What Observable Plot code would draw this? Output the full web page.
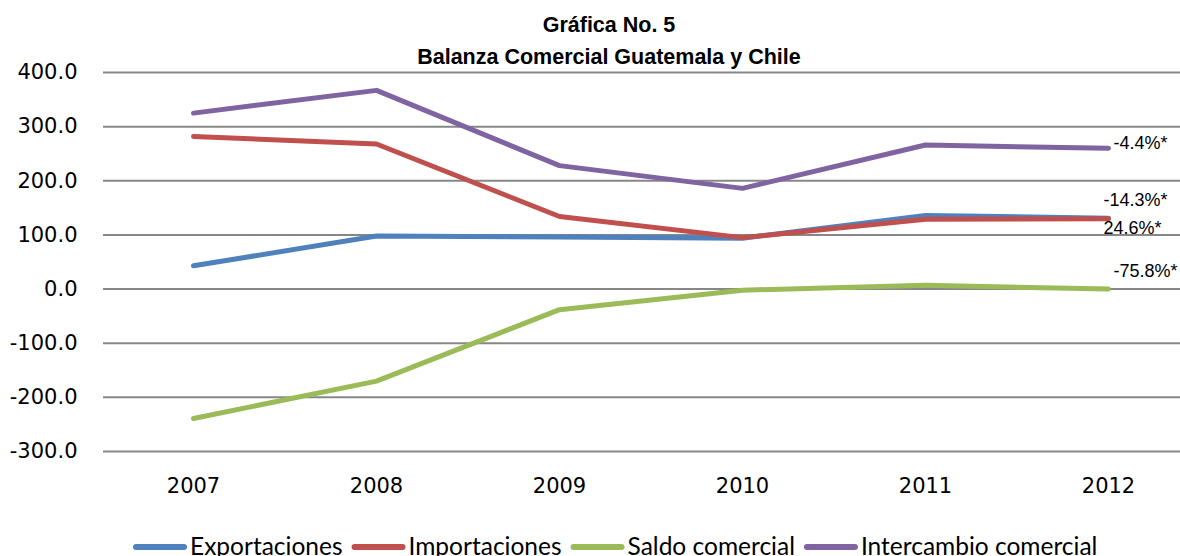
<!DOCTYPE html>
<html>
<head>
<meta charset="utf-8">
<script src="https://cdn.jsdelivr.net/npm/d3@7"></script>
<script src="https://cdn.jsdelivr.net/npm/@observablehq/plot@0.6"></script>
<style>
  html, body { margin: 0; padding: 0; background: #fff; }
  #wrap { position: relative; width: 1180px; height: 556px; overflow: hidden; }
  #wrap > svg { position: absolute; left: 0; top: 0; }
</style>
</head>
<body>
<div id="wrap"></div>
<script>
// ---- data ----
const years = [2007, 2008, 2009, 2010, 2011, 2012];
const seriesNames = ["Exportaciones", "Importaciones", "Saldo comercial", "Intercambio comercial"];
const seriesColors = ["#4F81BD", "#C0504D", "#9BBB59", "#8064A2"];
const exportaciones = [43, 98, 96, 94, 136, 131];
const importaciones = [282, 268, 134, 95, 129, 130];
const saldoComercial = [-239, -170, -38, -2, 7, 0];
const intercambioComercial = [325, 367, 228, 186, 266, 260];
const yTicks = [-300, -200, -100, 0, 100, 200, 300, 400];
const titleLines = ["Gráfica No. 5", "Balanza Comercial Guatemala y Chile"];
const annotSeries = ["Intercambio comercial", "Importaciones", "Exportaciones", "Saldo comercial"];
const annotLabels = ["-4.4%*", "-14.3%*", "24.6%*", "-75.8%*"];
const annotDx = [5, -5, -5, 5];
const annotDy = [-5, -18, 10, -18];

const valuesBySeries = {
  "Exportaciones": exportaciones,
  "Importaciones": importaciones,
  "Saldo comercial": saldoComercial,
  "Intercambio comercial": intercambioComercial
};
const data = seriesNames.flatMap(s => years.map((yr, i) => ({series: s, year: yr, value: valuesBySeries[s][i]})));
const annots = annotSeries.map((s, i) => ({
  series: s, label: annotLabels[i], year: years[years.length - 1],
  value: valuesBySeries[s][years.length - 1], dx: annotDx[i], dy: annotDy[i]
}));

const axisFont = "'DejaVu Sans', sans-serif";

const chart = Plot.plot({
  width: 1180,
  height: 556,
  marginTop: 72,
  marginBottom: 105,
  marginLeft: 103,
  marginRight: 0,
  style: {fontFamily: axisFont, background: "transparent", color: "#000"},
  x: {type: "point", domain: years, range: [193, 1108], padding: 0},
  y: {domain: [-300, 400]},
  color: {domain: seriesNames, range: seriesColors},
  marks: [
    Plot.ruleY(yTicks, {stroke: "#878787", strokeWidth: 2}),
    Plot.axisY(yTicks, {tickSize: 0, tickPadding: 26, fontSize: 21, label: null, tickFormat: d => d.toFixed(1), fill: "#000"}),
    Plot.axisX(years, {tickSize: 0, tickPadding: 27, fontSize: 21, label: null, tickFormat: d => String(d), fill: "#000"}),
    Plot.line(data, {x: "year", y: "value", z: "series", stroke: "series", strokeWidth: 5, strokeLinecap: "round", strokeLinejoin: "round"}),
    ...annots.map(a => Plot.text([a], {
      x: "year", y: "value", text: "label", dx: a.dx, dy: a.dy,
      textAnchor: "start", lineAnchor: "middle", fontSize: 18,
      fontFamily: "'Liberation Sans', Arial, sans-serif", fill: "#000"
    }))
  ]
});
document.getElementById("wrap").appendChild(chart);

// ---- title & legend overlay ----
const ov = d3.select("#wrap").append("svg")
  .attr("width", 1180).attr("height", 556)
  .style("pointer-events", "none");

ov.selectAll("text.title").data(titleLines).join("text")
  .attr("class", "title")
  .attr("x", 609)
  .attr("y", (d, i) => i === 0 ? 32 : 63.5)
  .attr("text-anchor", "middle")
  .attr("font-family", "'Liberation Sans', Arial, sans-serif")
  .attr("font-weight", "bold")
  .attr("font-size", 21.5)
  .text(d => d);

const lg = ov.append("g").attr("font-family", "Lato, 'Open Sans', sans-serif").attr("font-size", 24.5);
let cx = 133;
seriesNames.forEach((name, i) => {
  lg.append("line").attr("x1", cx + 3).attr("x2", cx + 51).attr("y1", 547).attr("y2", 547)
    .attr("stroke", seriesColors[i]).attr("stroke-width", 6).attr("stroke-linecap", "round");
  const t = lg.append("text").attr("x", cx + 57).attr("y", 555).text(name);
  const w = t.node().getComputedTextLength();
  cx = cx + 57 + w + 9;
});
</script>
</body>
</html>
